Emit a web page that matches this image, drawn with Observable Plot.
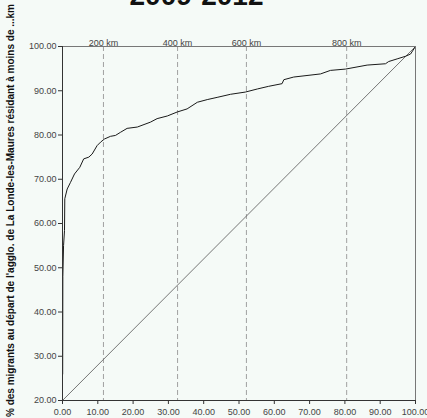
<!DOCTYPE html>
<html>
<head>
<meta charset="utf-8">
<script src="https://cdn.jsdelivr.net/npm/d3@7"></script>
<script src="https://cdn.jsdelivr.net/npm/@observablehq/plot@0.6"></script>
<style>
  html, body { margin: 0; padding: 0; background: #f5faf7; }
  #chart svg { display: block; }
</style>
</head>
<body>
<div id="chart"></div>
<script>
// Cumulative share of migrants (y, %) against cumulative share of destinations (x, %)
const curveX = [0.05, 0.1, 0.3, 0.57, 0.65, 1.33, 2.27, 3.4, 4.9, 6.0, 7.45, 8.4, 9.8, 10.8, 11.9, 13.6, 15.0, 16.4,
  18.3, 21.2, 24.9, 26.8, 29.7, 32.5, 35.3, 38.2, 41.0, 43.8, 47.6, 51.8, 55.2, 58.4, 62.2, 62.7, 65.5,
  73.1, 75.9, 80.2, 86.3, 91.5, 92.4, 94.8, 97.2, 98.6, 100];
const curveY = [26.0, 48.0, 55.0, 58.4, 65.6, 67.8, 69.3, 71.2, 72.7, 74.6, 75.0, 75.7, 77.6, 78.4, 79.1, 79.7, 79.9, 80.6,
  81.5, 81.8, 82.9, 83.7, 84.3, 85.2, 85.9, 87.4, 88.0, 88.5, 89.2, 89.7, 90.4, 91.0, 91.6, 92.5, 93.1,
  93.8, 94.6, 94.9, 95.8, 96.1, 96.6, 97.2, 97.8, 98.3, 100];

// Reference diagonal (uniform distribution)
const diagX = [0, 100];
const diagY = [20, 100];

// Distance markers
const kmX = [11.6, 32.6, 52.1, 80.5];
const kmLabels = ["200 km", "400 km", "600 km", "800 km"];

// Axis ticks
const xTicks = [0, 10, 20, 30, 40, 50, 60, 70, 80, 90, 100];
const yTicks = [20, 30, 40, 50, 60, 70, 80, 90, 100];

const title = "2009-2012";
const yLabel = "% des migrants au départ de l'agglo. de La Londe-les-Maures résidant à moins de ...km";

const curve = curveX.map((x, i) => ({x, y: curveY[i]}));
const diag = diagX.map((x, i) => ({x, y: diagY[i]}));
const km = kmX.map((x, i) => ({x, label: kmLabels[i]}));

const fmt = d => d.toFixed(2);

const chart = Plot.plot({
  width: 427,
  height: 418,
  marginLeft: 62,
  marginRight: 12,
  marginTop: 46,
  marginBottom: 18,
  style: {background: "#f5faf7", fontFamily: "'Liberation Sans', Arial, sans-serif", fontSize: "9px", color: "#444", overflow: "visible"},
  x: {domain: [0, 100]},
  y: {domain: [20, 100]},
  marks: [
    Plot.ruleX(km, {x: "x", stroke: "#a0a0a0", strokeDasharray: "5,3", strokeWidth: 1}),
    Plot.line(diag, {x: "x", y: "y", stroke: "#666", strokeWidth: 0.9}),
    Plot.line(curve, {x: "x", y: "y", stroke: "#1a1a1a", strokeWidth: 1}),
    Plot.frame({stroke: "#777"}),
    Plot.axisX({ticks: xTicks, tickFormat: fmt, tickSize: 4, tickPadding: 4, label: null, stroke: "#333", fill: "#444"}),
    Plot.axisY({ticks: yTicks, tickFormat: fmt, tickSize: 4, tickPadding: 2, label: null, stroke: "#333", fill: "#444"}),
    Plot.ruleX([0], {stroke: "#333"}),
    Plot.ruleY([20], {stroke: "#333"}),
    Plot.text(km, {x: "x", y: 100, text: "label", lineAnchor: "bottom", dy: -1, fill: "#444", fontSize: 9}),
    Plot.text([title], {frameAnchor: "top-left", dx: 134, dy: -42, lineAnchor: "bottom", textAnchor: "middle",
      fontSize: 28, fontWeight: "bold", fill: "#111"}),
    Plot.text([yLabel], {frameAnchor: "left", dx: -52, dy: -13, rotate: -90, textAnchor: "middle",
      fontSize: 10, fontWeight: "bold", fill: "#111"})
  ]
});

document.getElementById("chart").append(chart);
</script>
</body>
</html>
